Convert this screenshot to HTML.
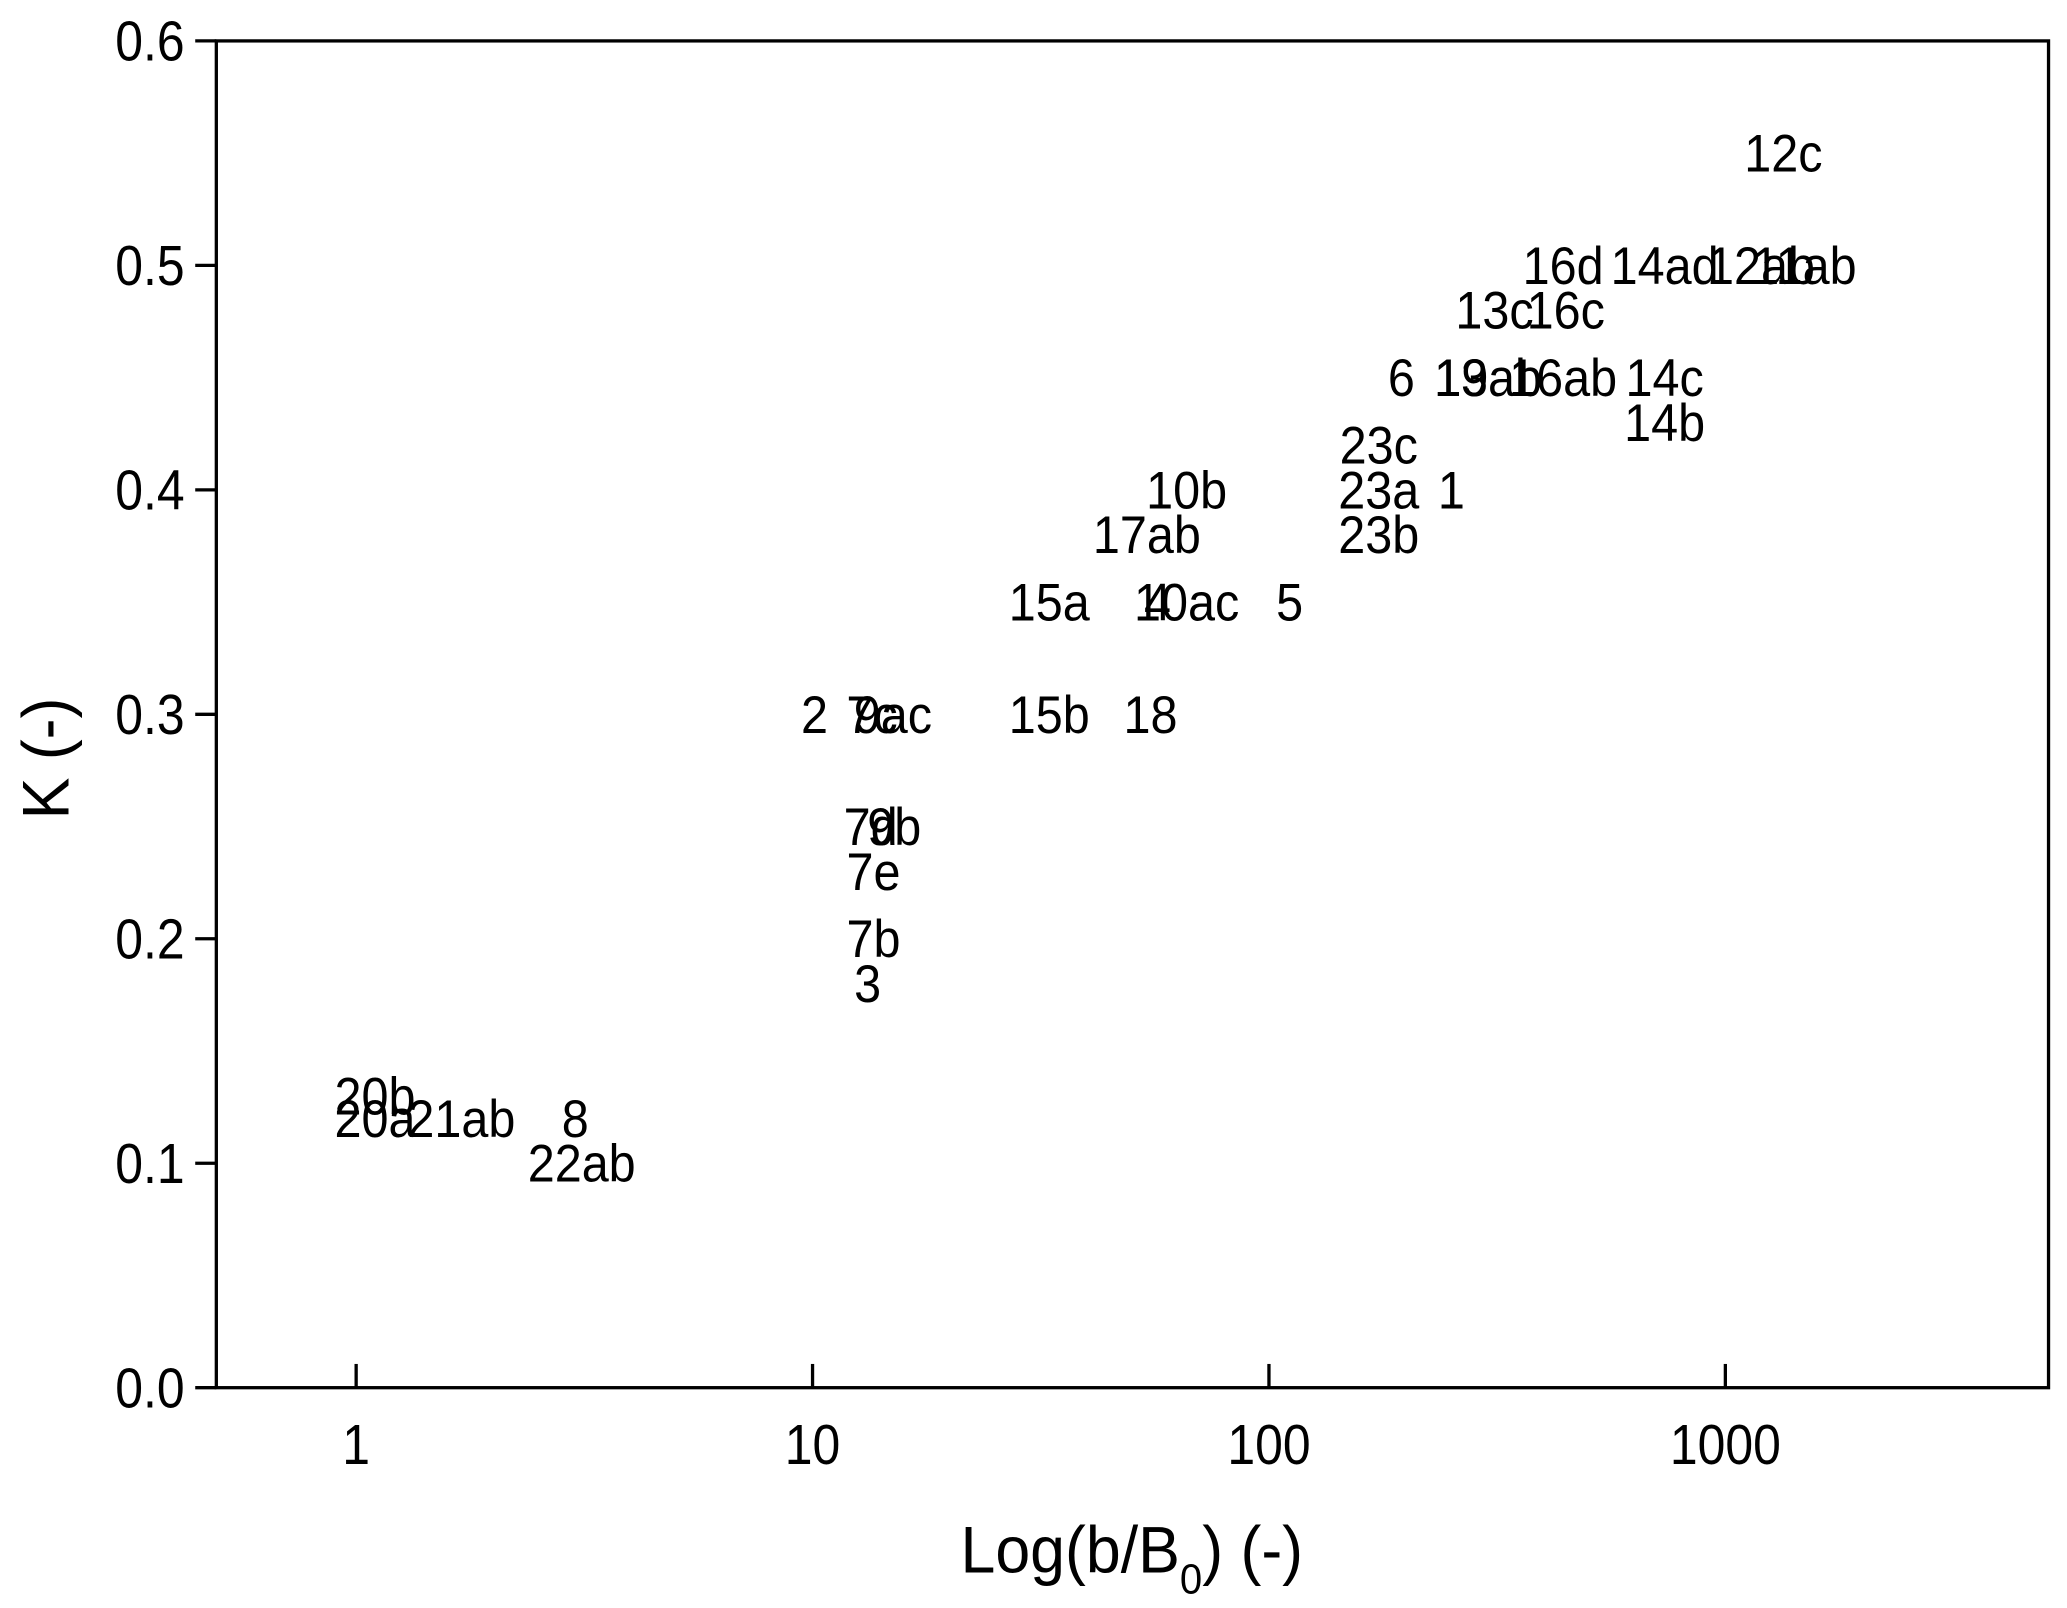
<!DOCTYPE html>
<html><head><meta charset="utf-8"><style>html,body{margin:0;padding:0;background:#fff}svg{display:block}</style></head>
<body>
<svg id="chart" width="2067" height="1608" viewBox="0 0 1567 1219" xmlns="http://www.w3.org/2000/svg" font-family="Liberation Sans, Arial, sans-serif">
<rect x="164" y="31" width="1389" height="1021" fill="none" stroke="#000" stroke-width="2.5"/>
<g id="axes"></g>
<g id="labels"></g>
<text x="0" y="0" font-size="50" text-anchor="middle" transform="translate(52,575) rotate(-90) scale(0.95,1)">K (-)</text>
<text x="0" y="0" font-size="50" text-anchor="middle" transform="translate(858,1192) scale(0.95,1)">Log(b/B<tspan font-size="32" dy="16">0</tspan><tspan dy="-16">) (-)</tspan></text>
</svg>
<script>
const names=["12c","16d","14ad","12ab","11ab","13c","16c","6","19","13ab","16ab","14c","14b","23c","23a","23b","1","10b","17ab","15a","4","10ac","5","2","7c","9ac","15b","18","7d","9b","7e","7b","3","20b","20a","21ab","8","22ab"];
const xVals=[1340,441,736,1197,1490,312,447,195,264,302,441,736,736,174,174,174,251,66,54,33,57,66,111,10.1,13.5,15,33,55,13.4,15.1,13.6,13.6,13.2,1.1,1.1,1.7,3.02,3.12];
const kVals=[0.55,0.5,0.5,0.5,0.5,0.48,0.48,0.45,0.45,0.45,0.45,0.45,0.43,0.42,0.40,0.38,0.40,0.40,0.38,0.35,0.35,0.35,0.35,0.30,0.30,0.30,0.30,0.30,0.25,0.25,0.23,0.20,0.18,0.13,0.12,0.12,0.12,0.10];
const yTicks=[0,0.1,0.2,0.3,0.4,0.5,0.6];
const yTickLabels=["0.0","0.1","0.2","0.3","0.4","0.5","0.6"];
const xTicks=[1,10,100,1000];
const xTickLabels=["1","10","100","1000"];
const NS="http://www.w3.org/2000/svg";
function xs(v){return 270+346*Math.log10(v);}
function ys(v){return 1052-v*(1021/0.6);}
const ax=document.getElementById('axes');
function el(t,a,p){const e=document.createElementNS(NS,t);for(const k in a)e.setAttribute(k,a[k]);p.appendChild(e);return e;}
function txt(x,y,size,anchor,sx,p){return el('text',{x:0,y:0,'font-size':size,'text-anchor':anchor,transform:'translate('+x+','+y+') scale('+sx+',1)'},p);}
yTicks.forEach((t,i)=>{
  const l=el('line',{x1:148,x2:164,y1:ys(t),y2:ys(t),stroke:'#000','stroke-width':2.5},ax);
  
  
  const tx=txt(140,ys(t)+15,43,'end',0.88,ax);
  tx.textContent=yTickLabels[i];
  
  
});
xTicks.forEach((t,i)=>{
  const l=el('line',{x1:xs(t),x2:xs(t),y1:1034,y2:1052,stroke:'#000','stroke-width':2.5},ax);
  
  
  const tx=txt(xs(t),1110,43,'middle',0.88,ax);
  tx.textContent=xTickLabels[i];
  
  
});
const lg=document.getElementById('labels');
names.forEach((n,i)=>{
  const tx=txt(xs(xVals[i]),ys(kVals[i])+14,40,'middle',0.92,lg);
  tx.textContent=n;
  
  
});
</script>
</body></html>
